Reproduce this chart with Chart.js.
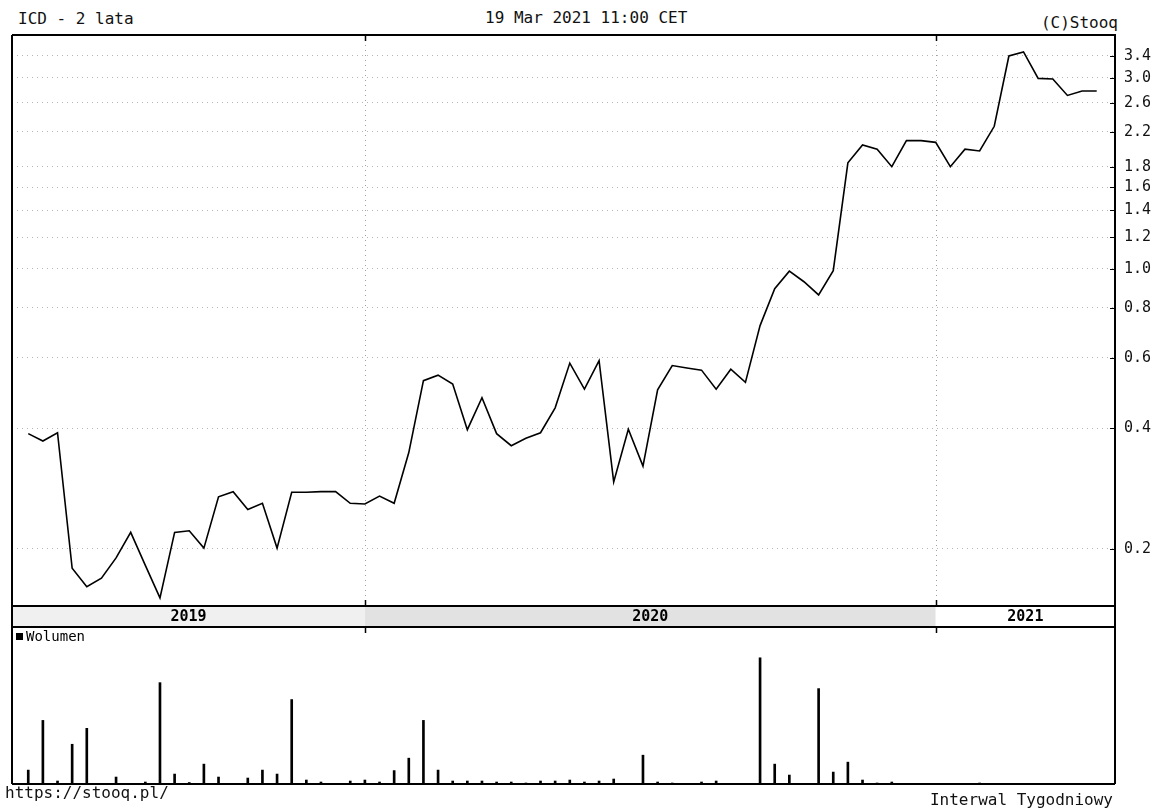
<!DOCTYPE html>
<html>
<head>
<meta charset="utf-8">
<title>ICD - 2 lata</title>
<script src="https://cdn.jsdelivr.net/npm/chart.js@4"></script>
<style>
  body { margin: 0; background: #fff; width: 1156px; height: 811px; position: relative; overflow: hidden;
         font-family: "DejaVu Sans Mono", monospace; color: #111; }
  .t { position: absolute; font-size: 16px; line-height: 16px; white-space: nowrap; }
  #priceChart { position: absolute; left: 0; top: 0; }
  #volChart { position: absolute; left: 0; top: 627px; }
</style>
</head>
<body>
<div class="t" style="left:18px;top:11px">ICD - 2 lata</div>
<div class="t" style="left:485px;top:10px">19 Mar 2021 11:00 CET</div>
<div class="t" style="right:38px;top:15px">(C)Stooq</div>

<canvas id="priceChart" width="1156" height="640"></canvas>
<canvas id="volChart" width="1156" height="184"></canvas>

<div class="t" style="left:5px;top:785px">https://stooq.pl/</div>
<div class="t" style="right:43px;top:792px">Interwal Tygodniowy</div>

<script>
// --- data (weekly, only weeks with trades) ---
const priceTicks = [0.2, 0.4, 0.6, 0.8, 1.0, 1.2, 1.4, 1.6, 1.8, 2.2, 2.6, 3.0, 3.4];

const closes = [
  0.388, 0.372, 0.390, 0.179, 0.161, 0.169, 0.190, 0.220, 0.182, 0.151,
  0.220, 0.222, 0.201, 0.270, 0.278, 0.251, 0.260, 0.201, 0.277, 0.277,
  0.278, 0.278, 0.260, 0.259, 0.271, 0.260, 0.348, 0.526, 0.543, 0.516,
  0.397, 0.477, 0.388, 0.362, 0.378, 0.390, 0.450, 0.582, 0.501, 0.590,
  0.294, 0.398, 0.322, 0.499, 0.574, 0.566, 0.559, 0.501, 0.562, 0.521,
  0.722, 0.893, 0.987, 0.929, 0.861, 0.990, 1.84, 2.04, 1.99, 1.80,
  2.09, 2.09, 2.07, 1.80, 1.99, 1.97, 2.27, 3.40, 3.48, 2.99,
  2.98, 2.71, 2.78, 2.78
];

// volume in thousands of shares
const volume = [
  14, 64, 3, 40, 56, 0, 7, 0, 2, 102,
  10, 1.5, 20, 7, 0, 6, 14, 10, 85, 4,
  2, 0, 3, 4, 2, 13.5, 26, 64, 14, 3,
  3, 3, 2, 2, 1, 3, 3, 4, 2, 3,
  5, 0, 29, 2, 1, 0, 2, 3, 0, 0,
  127, 20, 9, 0, 96, 12, 22, 4, 1, 2,
  0, 0, 0, 0, 0, 1, 0, 0, 0, 0,
  0, 0, 0, 0
];

const years = ['2019', '2020', '2021'];
const yearStartIdx = [23, 62]; // first week of 2020 and of 2021

const MONO = '"DejaVu Sans Mono", monospace';

// x range shared by both panels (week index)
const xRange = { min: -1.11, max: 74.25 };

// frame, year band and inner tick marks of the price panel
const priceFrame = {
    id: 'priceFrame',
    afterDraw(chart) {
        const { ctx, chartArea: a, scales: { x, y } } = chart;
        const bTop = a.bottom, bBot = a.bottom + 21;
        ctx.save();

        // dotted year separators
        ctx.strokeStyle = '#a0a0a0';
        ctx.lineWidth = 1;
        ctx.setLineDash([1, 4]);
        yearStartIdx.forEach(i => {
            const px = Math.round(x.getPixelForValue(i)) + 0.5;
            ctx.beginPath();
            ctx.moveTo(px, a.top);
            ctx.lineTo(px, a.bottom);
            ctx.stroke();
        });
        ctx.setLineDash([]);

        // small tick marks inside the right axis
        ctx.strokeStyle = '#000';
        y.ticks.forEach(t => {
            const py = Math.round(y.getPixelForValue(t.value)) + 0.5;
            ctx.beginPath();
            ctx.moveTo(a.right - 5, py);
            ctx.lineTo(a.right, py);
            ctx.stroke();
        });

        // year band
        const edges = [a.left, ...yearStartIdx.map(i => x.getPixelForValue(i)), a.right];
        const fills = ['#f0f0f0', '#e2e2e2', '#ffffff'];
        ctx.font = 'bold 15px ' + MONO;
        ctx.textAlign = 'center';
        ctx.textBaseline = 'middle';
        years.forEach((yr, k) => {
            ctx.fillStyle = fills[k];
            ctx.fillRect(edges[k], bTop, edges[k + 1] - edges[k], bBot - bTop);
            ctx.fillStyle = '#000';
            ctx.fillText(yr, (edges[k] + edges[k + 1]) / 2, (bTop + bBot) / 2 + 1);
        });

        // borders
        ctx.strokeStyle = '#000';
        ctx.lineWidth = 2;
        ctx.beginPath();
        ctx.moveTo(a.left, a.top); ctx.lineTo(a.right, a.top);
        ctx.moveTo(a.left, a.top); ctx.lineTo(a.left, chart.height);
        ctx.moveTo(a.right, a.top); ctx.lineTo(a.right, chart.height);
        ctx.moveTo(a.left, bTop); ctx.lineTo(a.right, bTop);
        ctx.moveTo(a.left, bBot); ctx.lineTo(a.right, bBot);
        ctx.stroke();

        // year ticks on top border and around the band
        ctx.lineWidth = 1.5;
        ctx.beginPath();
        yearStartIdx.forEach(i => {
            const px = Math.round(x.getPixelForValue(i)) + 0.5;
            ctx.moveTo(px, a.top); ctx.lineTo(px, a.top + 6);
            ctx.moveTo(px, bTop - 6); ctx.lineTo(px, bTop);
            ctx.moveTo(px, bBot); ctx.lineTo(px, bBot + 6);
        });
        ctx.stroke();
        ctx.restore();
    }
};

const volFrame = {
    id: 'volFrame',
    afterDraw(chart) {
        const { ctx, chartArea: a } = chart;
        ctx.save();
        ctx.strokeStyle = '#000';
        ctx.lineWidth = 2;
        ctx.beginPath();
        ctx.moveTo(a.left, 0); ctx.lineTo(a.left, a.bottom);
        ctx.moveTo(a.right, 0); ctx.lineTo(a.right, a.bottom);
        ctx.moveTo(a.left, a.bottom); ctx.lineTo(a.right, a.bottom);
        ctx.stroke();
        // legend
        ctx.fillStyle = '#000';
        ctx.fillRect(a.left + 4, 6, 7, 7);
        ctx.font = '14px ' + MONO;
        ctx.textBaseline = 'middle';
        ctx.fillText('Wolumen', a.left + 14, 10);
        ctx.restore();
    }
};

new Chart(document.getElementById('priceChart'), {
    type: 'line',
    data: {
        datasets: [{
            data: closes.map((v, i) => ({ x: i, y: v })),
            borderColor: '#000',
            borderWidth: 1.6,
            pointRadius: 0,
            tension: 0,
            fill: false
        }]
    },
    options: {
        responsive: false,
        animation: false,
        layout: { padding: { left: 12, top: 35, right: 0, bottom: 34 } },
        plugins: { legend: { display: false }, tooltip: { enabled: false } },
        scales: {
            x: { type: 'linear', min: xRange.min, max: xRange.max, display: false },
            y: {
                type: 'logarithmic',
                position: 'right',
                min: 0.1441,
                max: 3.836,
                afterBuildTicks: s => { s.ticks = priceTicks.map(v => ({ value: v })); },
                afterFit: s => { s.width = 41; },
                grid: { color: '#b4b4b4', lineWidth: 1, drawTicks: false },
                border: { display: true, color: '#000', width: 2, dash: [1, 4] },
                ticks: {
                    padding: 9,
                    color: '#111',
                    font: { family: MONO, size: 15 },
                    callback: v => Number(v).toFixed(1)
                }
            }
        }
    },
    plugins: [priceFrame]
});

new Chart(document.getElementById('volChart'), {
    type: 'bar',
    data: {
        datasets: [{
            data: volume.map((v, i) => ({ x: i, y: v })),
            backgroundColor: '#000',
            barThickness: 2
        }]
    },
    options: {
        responsive: false,
        animation: false,
        layout: { padding: { left: 12, top: 0, right: 41, bottom: 27 } },
        plugins: { legend: { display: false }, tooltip: { enabled: false } },
        scales: {
            x: { type: 'linear', min: xRange.min, max: xRange.max, offset: false, display: false },
            y: { min: 0, max: 158, display: false }
        }
    },
    plugins: [volFrame]
});
</script>
</body>
</html>
